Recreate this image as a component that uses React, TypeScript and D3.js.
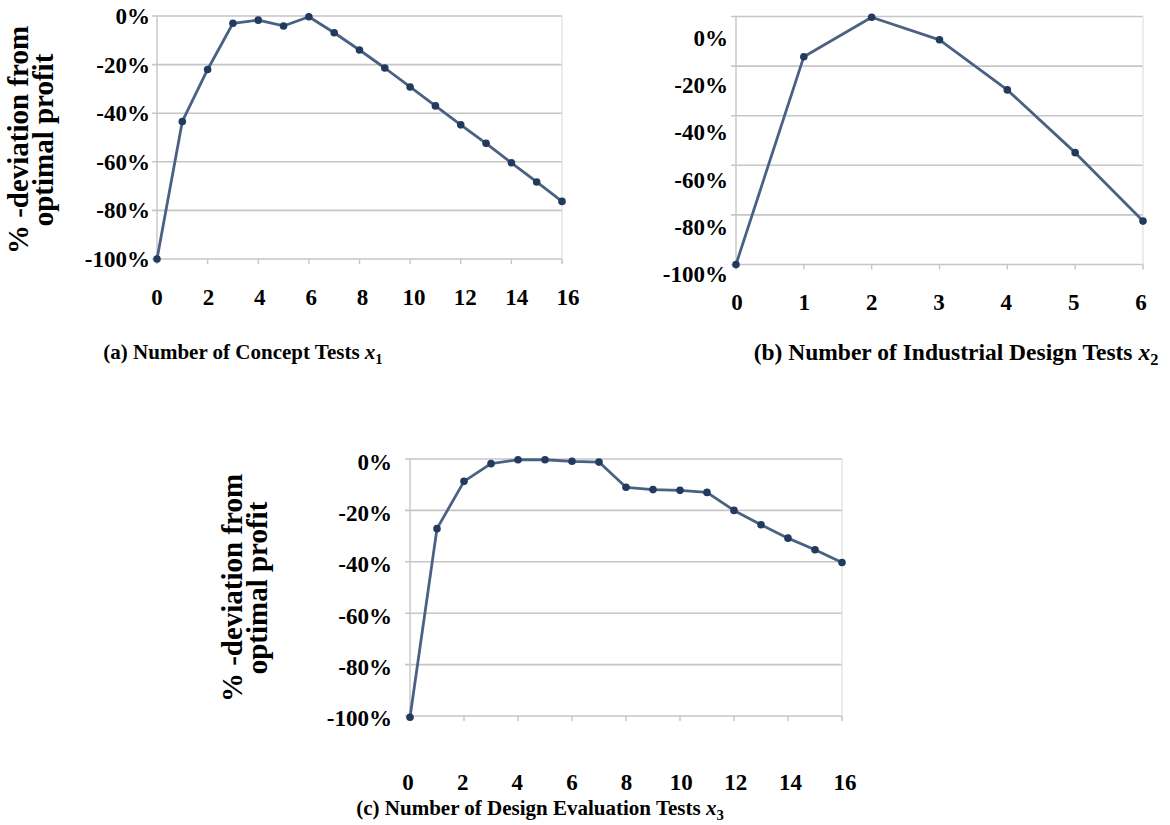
import React from "react";
import * as d3 from "d3";

// ---- data ----
const xValuesA = d3.range(0, 17);
const seriesA = [-100, -43.4, -22, -3, -1.7, -4.1, -0.3, -6.9, -14, -21.4, -29.2, -37, -44.8, -52.4, -60.4, -68.3, -76.3];
const xTicksA = [0, 2, 4, 6, 8, 10, 12, 14, 16];

const xValuesB = d3.range(0, 7);
const seriesB = [-100, -16.2, -0.3, -9.4, -29.6, -54.9, -82.5];
const xTicksB = [0, 1, 2, 3, 4, 5, 6];

const xValuesC = d3.range(0, 17);
const seriesC = [-100.5, -27.1, -8.7, -1.8, -0.3, -0.3, -0.9, -1.2, -11.0, -11.9, -12.2, -13.0, -20.0, -25.6, -30.8, -35.3, -40.3];
const xTicksC = [0, 2, 4, 6, 8, 10, 12, 14, 16];

const yTicks = [0, -20, -40, -60, -80, -100];
const yTitleLines = ["% -deviation from", "optimal profit"];

const FONT = "'Liberation Serif', 'Times New Roman', Times, serif";
const LINE = "#4a6184";
const MARK = "#233a5f";
const GRID = "#c6c6c6";

type PanelProps = {
  xs: number[];
  ys: number[];
  xTicks: number[];
  xDomain: [number, number];
  xRange: [number, number];
  yRange: [number, number];
  yLabelRange: [number, number];
  xLabelRange: [number, number];
  yLabelX: number;
  xLabelY: number;
  caption: string;
  sub: string;
  captionX: number;
  captionY: number;
  captionSize: number;
  title?: { x: number; y: number };
};

function Panel(p: PanelProps) {
  const x = d3.scaleLinear().domain(p.xDomain).range(p.xRange);
  const y = d3.scaleLinear().domain([0, -100]).range(p.yRange);
  const yl = d3.scaleLinear().domain([0, -100]).range(p.yLabelRange);
  const xl = d3.scaleLinear().domain(p.xDomain).range(p.xLabelRange);
  const line = d3
    .line<number>()
    .x((_, i) => x(p.xs[i]))
    .y((d) => y(d));
  const [x0, x1] = p.xRange;
  const [yTop, yBot] = p.yRange;
  return (
    <g>
      {yTicks.map((t) => (
        <line key={"g" + t} x1={x0 - 5} x2={x1} y1={y(t)} y2={y(t)} stroke={GRID} strokeWidth={1.6} />
      ))}
      <line x1={x0} x2={x0} y1={yTop} y2={yBot + 5} stroke={GRID} strokeWidth={1.4} />
      <line x1={x1} x2={x1} y1={yTop} y2={yBot + 5} stroke="#e0e0e0" strokeWidth={1.2} />
      {p.xTicks.map((t) => (
        <line key={"t" + t} x1={x(t)} x2={x(t)} y1={yBot} y2={yBot + 5} stroke={GRID} strokeWidth={1.4} />
      ))}
      <path d={line(p.ys) || ""} fill="none" stroke={LINE} strokeWidth={2.8} strokeLinejoin="round" />
      {p.ys.map((v, i) => (
        <circle key={"m" + i} cx={x(p.xs[i])} cy={y(v)} r={3.8} fill={MARK} />
      ))}
      {yTicks.map((t) => (
        <text key={"yl" + t} x={p.yLabelX} y={yl(t)} dy="0.35em" textAnchor="end" fontSize={23} fontWeight="bold" fontFamily={FONT}>
          {t + "%"}
        </text>
      ))}
      {p.xTicks.map((t) => (
        <text key={"xl" + t} x={xl(t)} y={p.xLabelY} dy="0.35em" textAnchor="middle" fontSize={23} fontWeight="bold" fontFamily={FONT}>
          {t}
        </text>
      ))}
      <text
        x={p.captionX}
        y={p.captionY}
        dy="0.35em"
        textAnchor="middle"
        fontSize={p.captionSize}
        fontWeight="bold"
        fontFamily={FONT}
      >
        {p.caption}
        <tspan fontStyle="italic">x</tspan>
        <tspan fontSize={p.captionSize * 0.7} dy="0.3em">{p.sub}</tspan>
      </text>
      {p.title && (
        <g transform={`translate(${p.title.x},${p.title.y}) rotate(-90)`}>
          {yTitleLines.map((s, i) => (
            <text key={s} x={0} y={i * 25} dy="0.35em" textAnchor="middle" fontSize={29} fontWeight="bold" fontFamily={FONT}>
              {s}
            </text>
          ))}
        </g>
      )}
    </g>
  );
}

export default function App() {
  return (
    <svg width={1170} height={825} style={{ position: "absolute", left: 0, top: 0, background: "#fff" }}>
      <Panel
        xs={xValuesA}
        ys={seriesA}
        xTicks={xTicksA}
        xDomain={[0, 16]}
        xRange={[157, 562]}
        yRange={[16, 259]}
        yLabelRange={[16, 259]}
        xLabelRange={[157, 568]}
        yLabelX={150}
        xLabelY={297}
        caption="(a) Number of Concept Tests "
        sub="1"
        captionX={243}
        captionY={352}
        captionSize={21}
        title={{ x: 18, y: 140 }}
      />
      <Panel
        xs={xValuesB}
        ys={seriesB}
        xTicks={xTicksB}
        xDomain={[0, 6]}
        xRange={[736, 1143]}
        yRange={[16.5, 264.5]}
        yLabelRange={[38, 274]}
        xLabelRange={[737, 1141]}
        yLabelX={728}
        xLabelY={302}
        caption="(b) Number of Industrial Design Tests "
        sub="2"
        captionX={956}
        captionY={352}
        captionSize={23.5}
      />
      <Panel
        xs={xValuesC}
        ys={seriesC}
        xTicks={xTicksC}
        xDomain={[0, 16]}
        xRange={[410, 842]}
        yRange={[459, 716]}
        yLabelRange={[462, 718]}
        xLabelRange={[408, 845]}
        yLabelX={392}
        xLabelY={782}
        caption="(c) Number of Design Evaluation Tests "
        sub="3"
        captionX={540}
        captionY={808}
        captionSize={21}
        title={{ x: 232, y: 588 }}
      />
    </svg>
  );
}
